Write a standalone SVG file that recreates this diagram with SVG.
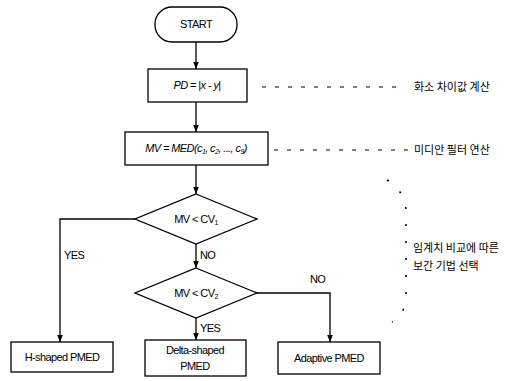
<svg xmlns="http://www.w3.org/2000/svg" width="524" height="381" viewBox="0 0 524 381">
<style>
.s{fill:#fff;stroke:#000;stroke-width:1.3}
.t{font-family:"Liberation Sans",Arial,sans-serif;font-size:11px;fill:#000;letter-spacing:-0.6px}
.k{font-family:"Noto Sans CJK KR",sans-serif;font-size:11px;fill:#000}
.c{fill:none;stroke:#000;stroke-width:1.3}
.d{fill:none;stroke:#000;stroke-width:1.2;stroke-dasharray:4 9}
.o{fill:none;stroke:#000;stroke-width:1.6;stroke-dasharray:2 15}
</style>
<defs>
<marker id="a" viewBox="0 0 10 10" refX="10" refY="5" markerWidth="7" markerHeight="7" orient="auto" markerUnits="userSpaceOnUse">
<path d="M0,1 L10,5 L0,9 Z" fill="#000"/>
</marker>
</defs>
<g id="connectors">
<line class="c" x1="196" y1="42" x2="196" y2="69" marker-end="url(#a)"/>
<line class="c" x1="196" y1="102" x2="196" y2="132" marker-end="url(#a)"/>
<line class="c" x1="196" y1="165" x2="196" y2="194" marker-end="url(#a)"/>
<polyline class="c" points="135,219 60,219 60,342" marker-end="url(#a)"/>
<line class="c" x1="196" y1="244" x2="196" y2="268" marker-end="url(#a)"/>
<polyline class="c" points="257,293 330,293 330,342" marker-end="url(#a)"/>
<line class="c" x1="196" y1="318" x2="196" y2="340" marker-end="url(#a)"/>
<line class="d" x1="262" y1="87" x2="402" y2="87"/>
<line class="d" x1="274" y1="150" x2="410" y2="150"/>
<path class="o" d="M387,180 Q406,192 406,212 L406,298 Q406,312 392,322"/>
<text class="t" x="64" y="259">YES</text>
<text class="t" x="200" y="259">NO</text>
<text class="t" x="310" y="283">NO</text>
<text class="t" x="200" y="332">YES</text>
</g>
<g id="start">
<rect class="s" x="155" y="7" width="82" height="35" rx="17"/>
<text class="t" x="196" y="28" text-anchor="middle">START</text>
</g>
<g id="pd">
<rect class="s" x="148" y="69" width="99" height="33"/>
<text class="t" x="197" y="89" text-anchor="middle"><tspan font-style="italic">PD</tspan> = |<tspan font-style="italic">x</tspan> - <tspan font-style="italic">y</tspan>|</text>
</g>
<g id="pd-note"><text class="k" x="414" y="91">화소 차이값 계산</text></g>
<g id="mv">
<rect class="s" x="125" y="132" width="143" height="33"/>
<text class="t" x="196" y="152" text-anchor="middle" font-style="italic">MV = MED(c<tspan font-size="7" dy="2">1</tspan><tspan dy="-2">, c</tspan><tspan font-size="7" dy="2">2</tspan><tspan dy="-2">, ..., c</tspan><tspan font-size="7" dy="2">9</tspan><tspan dy="-2">)</tspan></text>
</g>
<g id="mv-note"><text class="k" x="414" y="154">미디안 필터 연산</text></g>
<g id="d1">
<polygon class="s" points="196,194 257,219 196,244 135,219"/>
<text class="t" x="196" y="223" text-anchor="middle">MV &lt; CV<tspan font-size="7" dy="2">1</tspan></text>
</g>
<g id="d2">
<polygon class="s" points="196,268 257,293 196,318 135,293"/>
<text class="t" x="196" y="297" text-anchor="middle">MV &lt; CV<tspan font-size="7" dy="2">2</tspan></text>
</g>
<g id="sel-note">
<text class="k" x="413" y="252">임계치 비교에 따른</text>
<text class="k" x="413" y="270">보간 기법 선택</text>
</g>
<g id="h">
<rect class="s" x="11" y="342" width="102" height="30"/>
<text class="t" x="62" y="361" text-anchor="middle">H-shaped PMED</text>
</g>
<g id="delta">
<rect class="s" x="145" y="340" width="101" height="36"/>
<text class="t" x="195" y="354" text-anchor="middle">Delta-shaped</text>
<text class="t" x="195" y="370" text-anchor="middle">PMED</text>
</g>
<g id="adaptive">
<rect class="s" x="278" y="342" width="102" height="32"/>
<text class="t" x="329" y="362" text-anchor="middle">Adaptive PMED</text>
</g>
</svg>
